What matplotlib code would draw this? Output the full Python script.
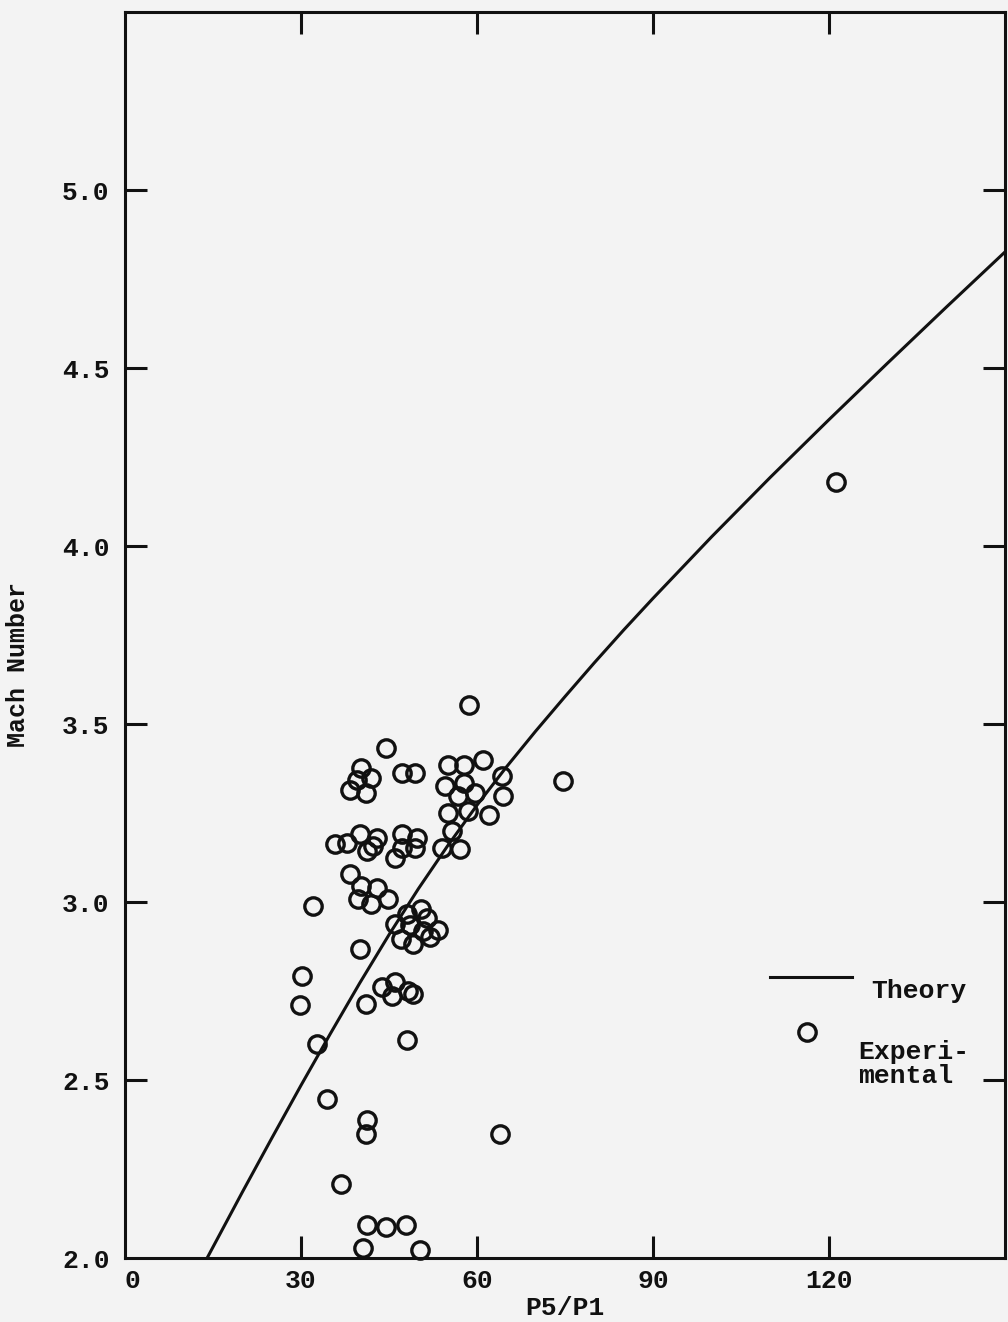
import matplotlib
matplotlib.use("Agg")
import matplotlib.pyplot as plt
from matplotlib.lines import Line2D

# Theory curve
theory_x = [14.0, 20, 25, 30, 35, 40, 45, 50, 55, 60, 65, 70, 75, 80, 85, 90,
            100, 110, 120, 130, 140, 150]
theory_m = [2.000, 2.185, 2.336, 2.485, 2.630, 2.772, 2.908, 3.037, 3.158, 3.272,
            3.379, 3.480, 3.577, 3.672, 3.764, 3.853, 4.026, 4.193, 4.355, 4.514,
            4.671, 4.826]

exp_x = [58.7, 44.5, 121.2, 74.7,
         40.3, 42.0, 38.4, 41.1, 39.5,
         47.2, 49.4,
         55.1, 57.8, 61.1, 54.5, 57.7, 59.7, 56.8, 55.1, 58.5, 55.7, 54.0, 57.1, 64.2, 64.5, 62.1,
         35.8, 37.8, 40.1, 42.9, 41.2, 42.3, 47.2, 49.7, 46.0, 49.4, 47.2,
         38.4, 40.3, 42.9, 44.9, 39.8, 42.0, 32.1,
         46.0, 48.1, 50.5, 51.5, 53.3, 50.8, 49.1, 47.0, 48.6, 52.0,
         40.1, 30.1, 29.9, 41.1,
         43.8, 46.0, 45.5, 48.3, 49.1,
         48.1, 32.7, 34.4, 41.3, 41.1, 63.9, 36.9,
         41.3, 44.5, 47.9, 40.6, 50.2]
exp_m = [3.552, 3.433, 4.18, 3.34,
         3.377, 3.347, 3.316, 3.307, 3.344,
         3.361, 3.361,
         3.386, 3.386, 3.40, 3.325, 3.335, 3.307, 3.297, 3.25, 3.255, 3.20, 3.152, 3.148, 3.353, 3.297, 3.244,
         3.162, 3.166, 3.19, 3.18, 3.143, 3.157, 3.19, 3.18, 3.124, 3.152, 3.152,
         3.078, 3.045, 3.04, 3.008, 3.008, 2.994, 2.989,
         2.939, 2.967, 2.981, 2.955, 2.922, 2.919, 2.883, 2.897, 2.936, 2.902,
         2.868, 2.793, 2.712, 2.714,
         2.760, 2.774, 2.737, 2.751, 2.742,
         2.611, 2.601, 2.447, 2.387, 2.349, 2.349, 2.209,
         2.092, 2.088, 2.092, 2.027, 2.022]

x_ticks = [0, 30, 60, 90, 120]
x_tick_labels = ["0", "30", "60", "90", "120"]
y_ticks = [2.0, 2.5, 3.0, 3.5, 4.0, 4.5, 5.0]
y_tick_labels = ["2.0", "2.5", "3.0", "3.5", "4.0", "4.5", "5.0"]

FONT = ["Liberation Mono", "DejaVu Sans Mono"]
plt.rcParams["font.family"] = FONT
plt.rcParams["font.weight"] = "bold"
plt.rcParams["axes.labelweight"] = "bold"
BG = "#f3f3f3"
INK = "#111111"
FS = 19

fig = plt.figure(figsize=(10.08, 13.22), dpi=100, facecolor=BG)
ax = fig.add_axes([125/1008, 64/1322, 880/1008, 1246/1322], facecolor=BG)

ax.plot(theory_x, theory_m, color=INK, lw=2.2, solid_capstyle="butt",
        solid_joinstyle="round", zorder=2)
ax.plot(exp_x, exp_m, linestyle="none", marker="o", ms=12.5, mfc="none",
        mec=INK, mew=2.4, zorder=3, clip_on=False)

ax.set_xlim(0, 150)
ax.set_ylim(2.0, 5.5)

for s in ax.spines.values():
    s.set_linewidth(2.2)
    s.set_color(INK)

ax.set_xticks(x_ticks)
ax.set_xticklabels(x_tick_labels)
ax.set_yticks(y_ticks)
ax.set_yticklabels(y_tick_labels)
ax.tick_params(axis="both", direction="in", length=16, width=2.2, color=INK,
               labelsize=FS, labelcolor=INK)
ax.tick_params(axis="x", top=True, bottom=True, pad=8)
ax.tick_params(axis="y", left=True, right=True, pad=11)
for t in ax.xaxis.get_major_ticks()[:1]:
    t.tick1line.set_visible(False)
    t.tick2line.set_visible(False)
    t.label1.set_horizontalalignment("left")
for t in ax.yaxis.get_major_ticks()[:1]:
    t.tick1line.set_visible(False)
    t.tick2line.set_visible(False)

ax.set_xlabel("P5/P1", fontsize=FS, color=INK, labelpad=2, fontweight="bold")
ax.set_ylabel("Mach Number", fontsize=18, color=INK, fontweight="bold")
ax.yaxis.set_label_coords(-0.108, 0.476)

# Legend (drawn in axes-fraction coordinates)
ax.add_line(Line2D([0.733, 0.826], [0.2255, 0.2255], transform=ax.transAxes,
                   color=INK, lw=2.2))
ax.text(0.848, 0.214, "Theory", transform=ax.transAxes, fontsize=FS,
        color=INK, va="center", ha="left")
ax.add_line(Line2D([0.775], [0.181], transform=ax.transAxes, linestyle="none",
                   marker="o", ms=12.5, mfc="none", mec=INK, mew=2.4))
ax.text(0.833, 0.156, "Experi-\nmental", transform=ax.transAxes, fontsize=FS,
        color=INK, va="center", ha="left", linespacing=1.0)

fig.savefig("out.png", dpi=100, facecolor=BG)
